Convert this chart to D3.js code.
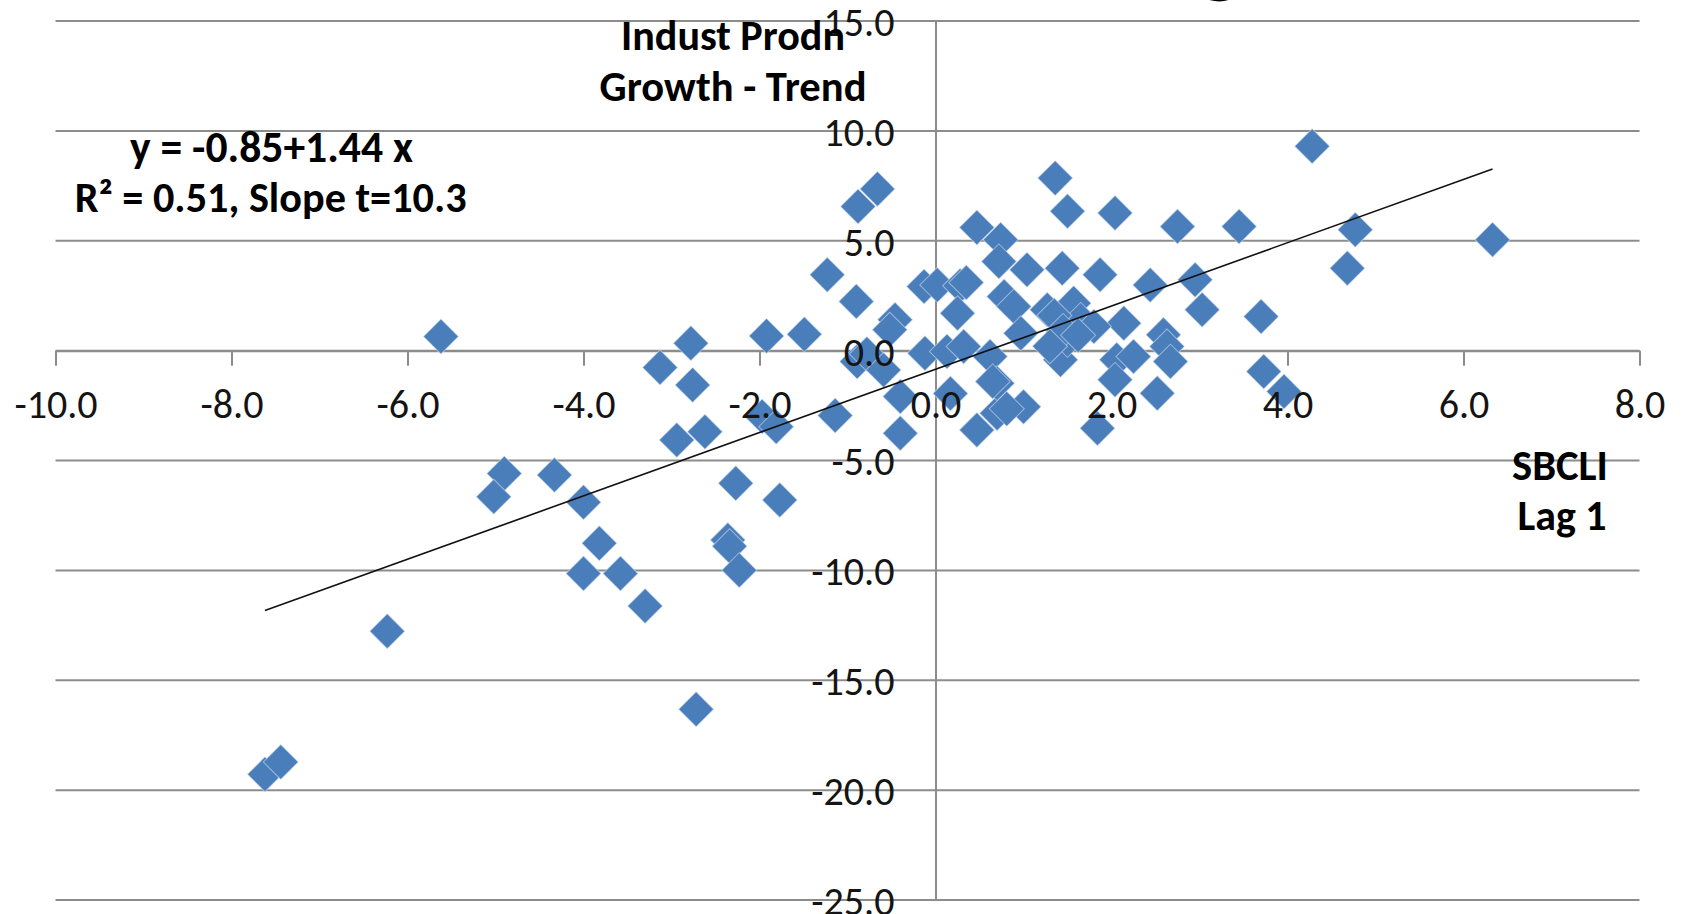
<!DOCTYPE html>
<html>
<head>
<meta charset="utf-8">
<script src="https://cdn.jsdelivr.net/npm/d3@7"></script>
<style>
  html, body { margin: 0; padding: 0; background: #ffffff; overflow: hidden; }
  svg { display: block; }
  text { font-family: Carlito, Calibri, Lato, "Open Sans", sans-serif; }
</style>
</head>
<body>
<svg id="chart" width="1687" height="914"></svg>
<script>
// SBCLI (lagged one period) against industrial production growth minus trend
const sbcliLag1 = [-7.62,-7.44,-6.23,-5.62,-4.90,-5.02,-4.33,-4.00,-3.82,-4.00,-3.58,-3.30,-2.72,-3.13,-2.78,-2.76,-2.94,-2.62,-2.27,-1.77,-2.36,-2.34,-2.23,-1.92,-1.49,-1.97,-1.81,-1.14,-1.23,-0.90,-0.88,-0.66,-0.46,-0.52,-0.89,-0.78,-0.59,-0.40,-0.40,-0.13,0.02,0.28,0.35,0.25,-0.12,0.13,0.32,0.62,0.17,0.47,0.70,0.70,1.00,0.47,0.74,0.72,1.04,0.78,0.89,0.97,1.36,1.50,2.04,2.75,3.45,4.28,4.77,6.33,4.68,1.44,1.87,2.44,2.95,3.03,3.70,1.27,1.57,1.65,2.14,1.80,1.42,1.50,2.06,2.25,2.59,2.63,2.67,2.04,2.52,1.84,3.73,3.96,1.35,1.45,1.30,1.62,0.65,0.81];
const ipGrowthVsTrend = [-19.28,-18.72,-12.77,0.64,-5.59,-6.65,-5.66,-6.90,-8.77,-10.14,-10.14,-11.62,-16.32,-0.77,0.34,-1.56,-4.07,-3.69,-6.04,-6.80,-8.62,-8.90,-9.99,0.67,0.74,-3.00,-3.46,-2.95,3.45,2.24,6.56,7.36,1.40,0.95,-0.50,-0.15,-0.88,-2.09,-3.76,2.92,2.99,2.95,3.10,1.70,-0.12,-0.04,0.19,-0.27,-1.95,-3.61,-2.85,-1.48,-2.55,5.60,5.05,4.06,3.68,2.46,2.01,0.79,7.85,6.34,6.26,5.65,5.65,9.30,5.50,5.05,3.75,3.75,3.45,2.99,3.22,1.86,1.55,1.86,2.16,1.40,1.25,1.10,-0.42,0.49,-0.42,-0.27,0.72,0.19,-0.50,-1.33,-1.94,-3.53,-0.95,-1.86,1.60,0.90,0.20,0.70,-1.40,-2.65];

// Fitted line coefficients, as reported in the annotation
const fitIntercept = -0.85;
const fitSlope = 1.44;

const xTicks = [-10, -8, -6, -4, -2, 0, 2, 4, 6, 8];
const yTicks = [15, 10, 5, 0, -5, -10, -15, -20, -25];

const eqLines = ["y = -0.85+1.44 x", "R\u00B2 = 0.51, Slope t=10.3"];
const yTitleLines = ["Indust Prodn", "Growth - Trend"];
const xTitleLines = ["SBCLI", "Lag 1"];

const points = sbcliLag1.map((v, i) => ({ x: v, y: ipGrowthVsTrend[i] }));

const svg = d3.select("#chart");
const x = d3.scaleLinear().domain([-10, 8]).range([55.5, 1639.5]);
const y = d3.scaleLinear().domain([-25, 15]).range([900, 21]);

const gridColor = "#8c8c8c";
const fmt = d => d.toFixed(1);

// Horizontal gridlines
svg.append("g").selectAll("line").data(yTicks).join("line")
  .attr("x1", x(-10)).attr("x2", x(8))
  .attr("y1", d => y(d)).attr("y2", d => y(d))
  .attr("stroke", gridColor).attr("stroke-width", 2);

// Axis lines and tick marks (labels go on a later layer)
const xAxisLines = svg.append("g").attr("transform", `translate(0,${y(0)})`)
  .call(d3.axisBottom(x).tickValues(xTicks).tickSize(15).tickSizeOuter(0).tickFormat(""));
const yAxisLines = svg.append("g").attr("transform", `translate(${x(0)},0)`)
  .call(d3.axisLeft(y).tickValues(yTicks).tickSize(0).tickSizeOuter(0).tickFormat(""));
[xAxisLines, yAxisLines].forEach(g => {
  g.selectAll("path.domain").attr("stroke", gridColor).attr("stroke-width", 2);
  g.selectAll(".tick line").attr("stroke", gridColor).attr("stroke-width", 2);
});

// Diamond markers
const diamond = d3.symbol(d3.symbolSquare, 612);
svg.append("g").selectAll("path").data(points).join("path")
  .attr("d", diamond)
  .attr("transform", d => `translate(${x(d.x)},${y(d.y)}) rotate(45)`)
  .attr("fill", "#4a7ebb")
  .attr("stroke", "#dbe5f2")
  .attr("stroke-opacity", 0.55)
  .attr("stroke-width", 1);

// Linear fit across the range of the data
const xExt = d3.extent(sbcliLag1);
svg.append("line")
  .attr("x1", x(xExt[0])).attr("y1", y(fitIntercept + fitSlope * xExt[0]))
  .attr("x2", x(xExt[1])).attr("y2", y(fitIntercept + fitSlope * xExt[1]))
  .attr("stroke", "#111").attr("stroke-width", 1.6);

// Scale a text element's font so it spans the wanted width
function fitWidth(sel, width) {
  const node = sel.node();
  const fs = parseFloat(sel.attr("font-size"));
  const w = node.getComputedTextLength();
  if (w > 0) sel.attr("font-size", (fs * width / w).toFixed(2));
  return sel;
}

// Tick labels
const probe = svg.append("text").attr("font-size", 36).text("10.0");
fitWidth(probe, 71);
const tickFs = probe.attr("font-size");
probe.remove();

const xAxisText = svg.append("g").attr("transform", `translate(0,${y(0)})`)
  .call(d3.axisBottom(x).tickValues(xTicks).tickSize(0).tickPadding(0).tickFormat(fmt));
xAxisText.select("path.domain").remove();
xAxisText.selectAll("text").attr("y", 67).attr("dy", 0)
  .attr("font-size", tickFs).attr("fill", "#141414");

const yAxisText = svg.append("g").attr("transform", `translate(${x(0)},0)`)
  .call(d3.axisLeft(y).tickValues(yTicks).tickSize(0).tickPadding(41).tickFormat(fmt));
yAxisText.select("path.domain").remove();
yAxisText.selectAll("text").attr("dy", "0.36em")
  .attr("font-size", tickFs).attr("fill", "#141414");
[xAxisText, yAxisText].forEach(g => g.attr("font-family", null));

// Bold annotations
function boldLabel(txt, cx, baseline, width) {
  const t = svg.append("text")
    .attr("x", cx).attr("y", baseline)
    .attr("text-anchor", "middle")
    .attr("font-weight", "bold")
    .attr("font-size", 34)
    .attr("fill", "#000")
    .text(txt);
  return fitWidth(t, width);
}
boldLabel(yTitleLines[0], 733, 50, 224);
boldLabel(yTitleLines[1], 733, 101, 267);
boldLabel(xTitleLines[0], 1560, 480, 96);
boldLabel(xTitleLines[1], 1562, 530, 89);
boldLabel(eqLines[0], 271.5, 162, 283);
boldLabel(eqLines[1], 270.7, 211.7, 392);

// Tail of the chart heading, which sits above the visible area
svg.append("text")
  .attr("x", 1220).attr("y", -15)
  .attr("text-anchor", "middle")
  .attr("font-weight", "bold")
  .attr("font-size", 96)
  .attr("fill", "#000")
  .text("g");
</script>
</body>
</html>
